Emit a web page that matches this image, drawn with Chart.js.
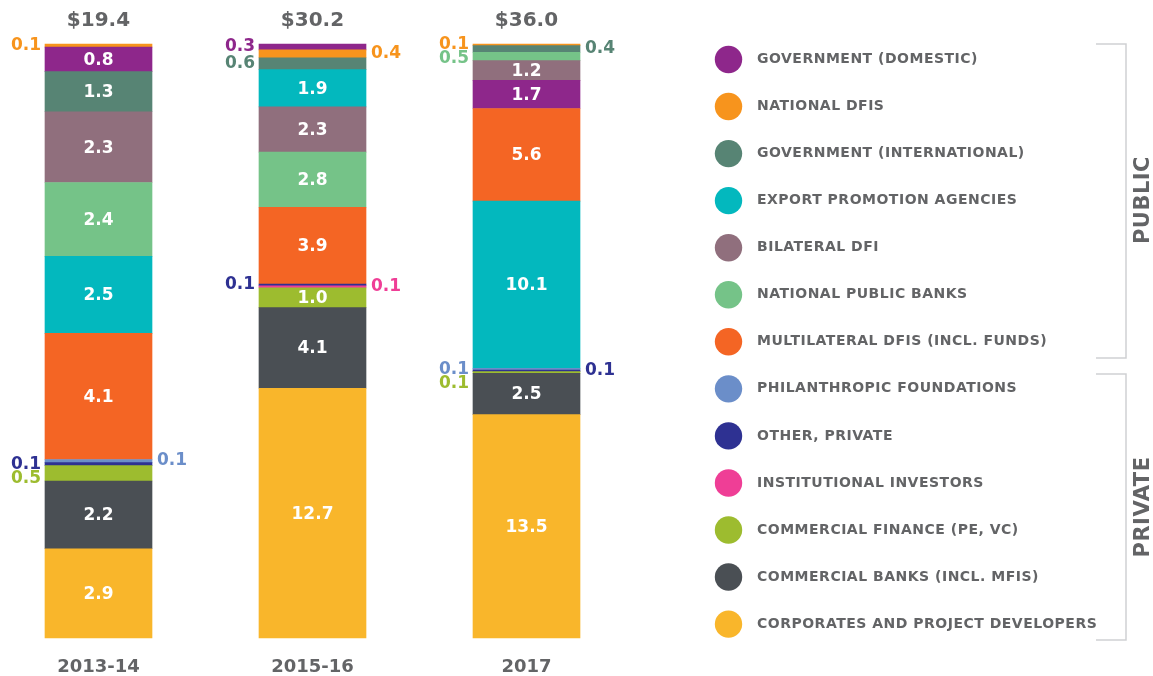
<!DOCTYPE html>
<html>
<head>
<meta charset="utf-8">
<script src="https://cdn.jsdelivr.net/npm/chart.js@4.4.1/dist/chart.umd.min.js"></script>
<style>
	html, body { margin: 0; padding: 0; background: #fff; }
	#wrap { width: 1153px; height: 676px; }
</style>
</head>
<body>
<div id="wrap"><canvas id="chart" width="1153" height="676"></canvas></div>
<script>
// periods and printed totals (USD bn)
const periods = ['2013-14', '2015-16', '2017'];
const totals = ['$19.4', '$30.2', '$36.0'];

const categories = [
	'GOVERNMENT (DOMESTIC)',
	'NATIONAL DFIS',
	'GOVERNMENT (INTERNATIONAL)',
	'EXPORT PROMOTION AGENCIES',
	'BILATERAL DFI',
	'NATIONAL PUBLIC BANKS',
	'MULTILATERAL DFIS (INCL. FUNDS)',
	'PHILANTHROPIC FOUNDATIONS',
	'OTHER, PRIVATE',
	'INSTITUTIONAL INVESTORS',
	'COMMERCIAL FINANCE (PE, VC)',
	'COMMERCIAL BANKS (INCL. MFIS)',
	'CORPORATES AND PROJECT DEVELOPERS'
];

// one array per category, one value per period
const governmentDomestic = [0.8, 0.3, 1.7];
const nationalDfis = [0.1, 0.4, 0.1];
const governmentInternational = [1.3, 0.6, 0.4];
const exportPromotion = [2.5, 1.9, 10.1];
const bilateralDfi = [2.3, 2.3, 1.2];
const nationalPublicBanks = [2.4, 2.8, 0.5];
const multilateralDfis = [4.1, 3.9, 5.6];
const philanthropic = [0.1, 0, 0.1];
const otherPrivate = [0.1, 0.1, 0.1];
const institutional = [0, 0.1, 0];
const commercialFinance = [0.5, 1.0, 0.1];
const commercialBanks = [2.2, 4.1, 2.5];
const corporates = [2.9, 12.7, 13.5];

const series = [
	governmentDomestic, nationalDfis, governmentInternational, exportPromotion,
	bilateralDfi, nationalPublicBanks, multilateralDfis, philanthropic,
	otherPrivate, institutional, commercialFinance, commercialBanks, corporates
];

// stacking order of each bar, top to bottom (category indexes)
const stackOrder = [
	[1, 0, 2, 4, 5, 3, 6, 7, 8, 10, 11, 12],
	[0, 1, 2, 3, 4, 5, 6, 8, 9, 10, 11, 12],
	[1, 2, 5, 4, 0, 6, 3, 7, 8, 10, 11, 12]
];

const colors = [
	'#8e278b', '#f7941d', '#578474', '#03b8be', '#906f7d', '#75c388', '#f46524',
	'#6b8ec9', '#2e3192', '#ef3e96', '#9dbc2f', '#4a4f54', '#f9b62b'
];

// label layout: which side small values go, top to bottom
const outsideSides = [
	['L', 'R', 'L', 'L'],
	['L', 'R', 'L', 'L', 'R'],
	['L', 'R', 'L', 'L', 'R', 'L']
];

const FONT = '"DejaVu Sans", sans-serif';
const GREY = '#636466';

// bar sums, so every bar is drawn full height
const sums = periods.map((p, i) => series.reduce((s, arr) => s + arr[i], 0));

const slots = stackOrder[0].length;
const datasets = [];
for (let s = 0; s < slots; s++) {
	const cats = stackOrder.map(order => order[slots - 1 - s]);
	datasets.push({
		label: 'slot ' + s,
		data: cats.map((c, i) => series[c][i] / sums[i] * 100),
		values: cats.map((c, i) => series[c][i]),
		backgroundColor: cats.map(c => colors[c]),
		borderWidth: 0,
		barThickness: 107,
		clip: false
	});
}

const segmentLabels = {
	id: 'segmentLabels',
	afterDatasetsDraw(chart) {
		const ctx = chart.ctx;
		ctx.save();
		ctx.textBaseline = 'middle';
		periods.forEach((p, i) => {
			const outside = [];
			let left = 0, right = 0, cx = 0;
			ctx.font = `bold 17px ${FONT}`;
			chart.data.datasets.forEach((ds, d) => {
				const bar = chart.getDatasetMeta(d).data[i];
				const value = ds.values[i];
				left = bar.x - bar.width / 2;
				right = bar.x + bar.width / 2;
				cx = bar.x;
				if (!value) return;
				const h = bar.base - bar.y;
				const y = (bar.y + bar.base) / 2;
				if (h >= 18) {
					ctx.fillStyle = '#fff';
					ctx.textAlign = 'center';
					ctx.fillText(value.toFixed(1), bar.x, y + 1);
				} else {
					outside.push({ y, value, color: ds.backgroundColor[i] });
				}
			});
			outside.sort((a, b) => a.y - b.y);
			const last = { L: -Infinity, R: -Infinity };
			outside.forEach((o, k) => {
				const side = outsideSides[i][k] || 'L';
				const y = Math.max(o.y, last[side] + 14);
				last[side] = y;
				ctx.fillStyle = o.color;
				ctx.textAlign = side === 'L' ? 'right' : 'left';
				ctx.fillText(o.value.toFixed(1), side === 'L' ? left - 4 : right + 5, y);
			});

			// total above, period below
			ctx.fillStyle = GREY;
			ctx.textAlign = 'center';
			ctx.font = `bold 20px ${FONT}`;
			ctx.fillText(totals[i], cx, chart.chartArea.top - 23);
			ctx.font = `bold 18px ${FONT}`;
			ctx.fillText(p, cx, chart.chartArea.bottom + 29);
		});
		ctx.restore();
	}
};

const sideLegend = {
	id: 'sideLegend',
	afterDraw(chart) {
		const ctx = chart.ctx;
		ctx.save();
		ctx.textBaseline = 'middle';
		ctx.textAlign = 'left';
		ctx.font = `bold 14px ${FONT}`;
		ctx.letterSpacing = '0.5px';
		categories.forEach((name, k) => {
			const y = 59.5 + k * 47.05;
			ctx.fillStyle = colors[k];
			ctx.beginPath();
			ctx.arc(728.5, y, 13.7, 0, Math.PI * 2);
			ctx.fill();
			ctx.fillStyle = GREY;
			ctx.fillText(name, 757, y);
		});

		// group brackets
		ctx.strokeStyle = '#d0d1d3';
		ctx.lineWidth = 1.5;
		[[44, 358], [374, 640]].forEach(([t, b]) => {
			ctx.beginPath();
			ctx.moveTo(1096, t);
			ctx.lineTo(1126, t);
			ctx.lineTo(1126, b);
			ctx.lineTo(1096, b);
			ctx.stroke();
		});

		ctx.letterSpacing = '0.5px';
		ctx.font = `bold 21px ${FONT}`;
		ctx.fillStyle = GREY;
		ctx.textAlign = 'center';
		[['PUBLIC', 200], ['PRIVATE', 507]].forEach(([txt, y]) => {
			ctx.save();
			ctx.translate(1144, y);
			ctx.rotate(-Math.PI / 2);
			ctx.fillText(txt, 0, 0);
			ctx.restore();
		});
		ctx.restore();
	}
};

new Chart(document.getElementById('chart'), {
	type: 'bar',
	data: {
		labels: periods,
		datasets: datasets
	},
	options: {
		responsive: false,
		animation: false,
		devicePixelRatio: 1,
		layout: {
			padding: { left: 98.5, right: 626.5, top: 44, bottom: 38 }
		},
		plugins: {
			legend: { display: false },
			tooltip: { enabled: false }
		},
		scales: {
			x: {
				stacked: true,
				offset: false,
				display: false
			},
			y: {
				stacked: true,
				display: false,
				min: 0,
				max: 100
			}
		}
	},
	plugins: [segmentLabels, sideLegend]
});
</script>
</body>
</html>
